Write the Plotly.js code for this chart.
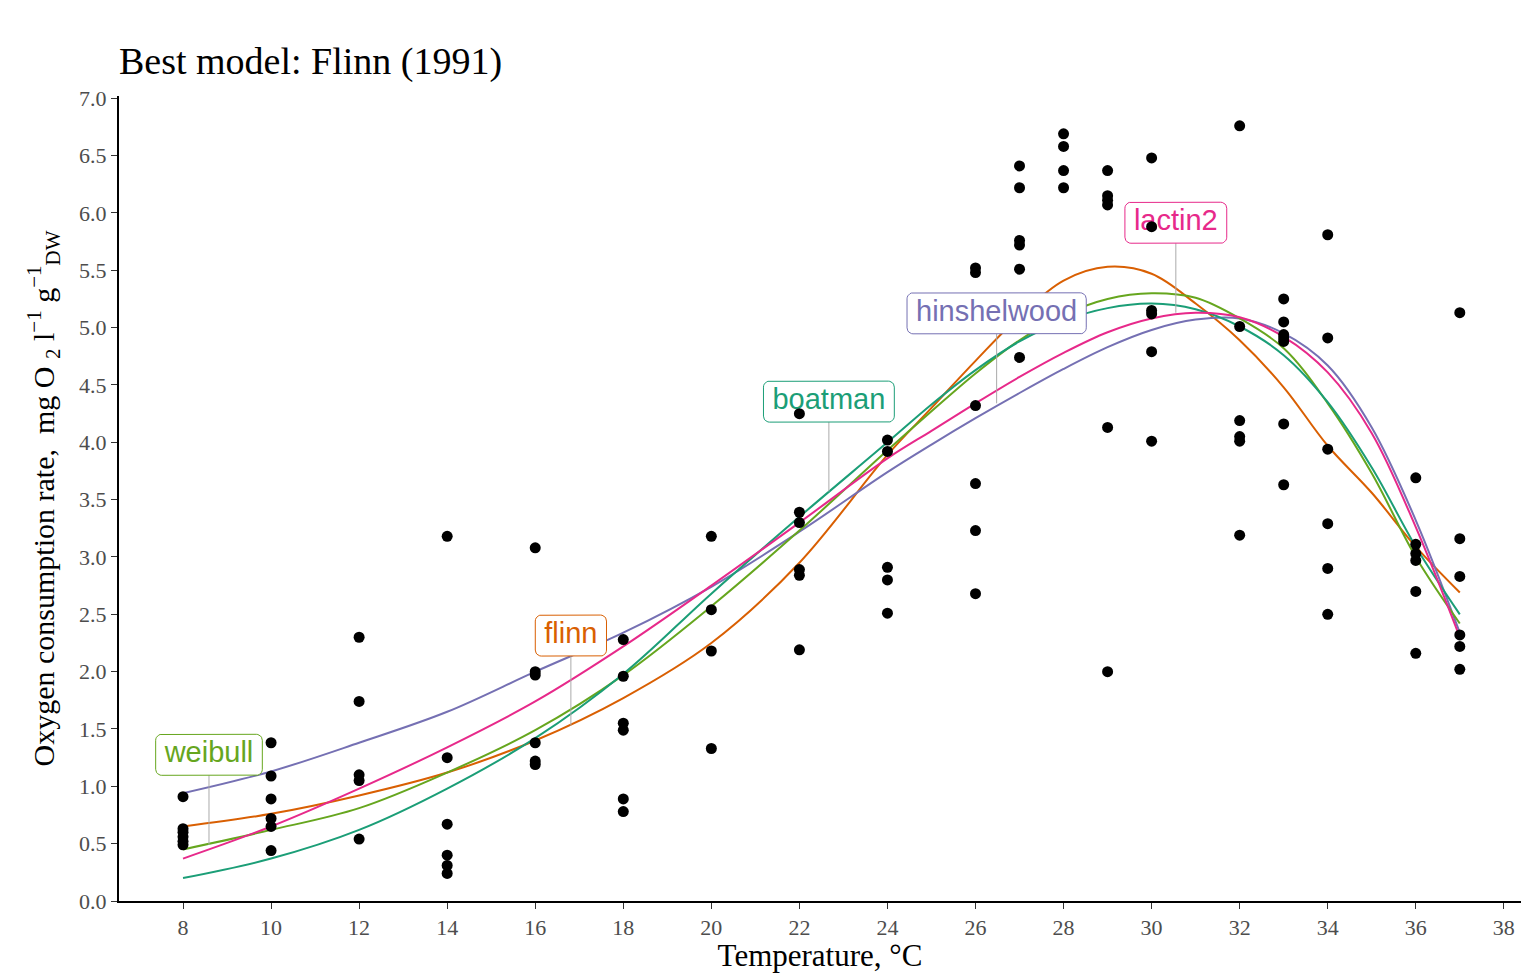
<!DOCTYPE html>
<html><head><meta charset="utf-8">
<script src="https://cdn.plot.ly/plotly-3.0.1.min.js"></script>
<style>html,body{margin:0;padding:0;background:#fff}#chart{width:1521px;height:973px}</style>
</head><body><div id="chart"></div>
<script>
// ---- observed data ----
const obsTemp = [
  8,8,8,8,8,8,
  10,10,10,10,10,10,
  12,12,12,12,12,
  14,14,14,14,14,14,
  16,16,16,16,16,16,
  18,18,18,18,18,18,
  20,20,20,20,
  22,22,22,22,22,22,
  24,24,24,24,24,
  26,26,26,26,26,26,
  27,27,27,27,27,27,
  28,28,28,28,
  29,29,29,29,29,29,
  30,30,30,30,30,30,
  32,32,32,32,32,32,
  33,33,33,33,33,33,33,
  34,34,34,34,34,34,
  36,36,36,36,36,36,
  37,37,37,37,37,37
];
const obsRate = [
  0.91,0.63,0.60,0.56,0.52,0.49,
  1.38,1.09,0.89,0.72,0.65,0.44,
  2.30,1.74,1.10,1.05,0.54,
  3.18,1.25,0.67,0.40,0.31,0.24,
  3.08,2.00,1.97,1.38,1.22,1.19,
  2.28,1.96,1.55,1.49,0.89,0.78,
  3.18,2.54,2.18,1.33,
  4.25,3.39,3.30,2.89,2.84,2.19,
  4.02,3.92,2.91,2.80,2.51,
  5.52,5.48,4.32,3.64,3.23,2.68,
  6.41,6.22,5.76,5.72,5.51,4.74,
  6.69,6.58,6.37,6.22,
  6.37,6.15,6.11,6.07,4.13,2.00,
  6.48,5.88,5.15,5.12,4.79,4.01,
  6.76,5.01,4.19,4.05,4.01,3.19,
  5.25,5.05,4.94,4.91,4.88,4.16,3.63,
  5.81,4.91,3.94,3.29,2.90,2.50,
  3.69,3.11,3.03,2.97,2.70,2.16,
  5.13,3.16,2.83,2.32,2.22,2.02
];

// ---- fitted model curves ----
const curveTemp   = [8,10,12,14,16,18,20,22,24,25,26,27,28,29,30,31,32,33,34,35,36,37];
const boatman     = [0.20,0.37,0.62,0.98,1.42,1.98,2.68,3.35,4.00,4.33,4.63,4.88,5.06,5.17,5.21,5.16,5.01,4.76,4.35,3.78,3.09,2.50];
const flinn       = [0.65,0.76,0.92,1.12,1.40,1.77,2.25,2.95,3.89,4.30,4.71,5.10,5.41,5.53,5.47,5.21,4.89,4.48,3.97,3.56,3.09,2.69];
const hinshelwood = [0.94,1.13,1.38,1.65,2.00,2.34,2.74,3.22,3.74,3.98,4.21,4.43,4.64,4.83,4.98,5.07,5.08,4.95,4.67,4.13,3.32,2.34];
const lactin2     = [0.37,0.65,0.98,1.34,1.74,2.22,2.75,3.30,3.86,4.10,4.34,4.57,4.78,4.96,5.08,5.13,5.09,4.92,4.61,4.08,3.26,2.30];
const weibull     = [0.45,0.62,0.81,1.12,1.49,1.97,2.57,3.23,3.93,4.27,4.60,4.89,5.11,5.25,5.30,5.26,5.08,4.82,4.34,3.73,3.00,2.42];

// ---- labels ----
const modelNames = ['boatman','flinn','hinshelwood','lactin2','weibull'];
const modelCurves = [boatman, flinn, hinshelwood, lactin2, weibull];
const labelTemp = [22.67, 16.81, 26.48, 30.55, 8.59];
const labelRate = [3.57, 1.53, 4.34, 5.13, 0.49];

// ---- tick labels ----
const xTicks = [8,10,12,14,16,18,20,22,24,26,28,30,32,34,36,38];
const yTicks = [0,0.5,1,1.5,2,2.5,3,3.5,4,4.5,5,5.5,6,6.5,7];

const titleText = 'Best model: Flinn (1991)';
const xTitle = 'Temperature, °C';
const yTitle = 'Oxygen consumption rate,  mg O <sub>2</sub> l<sup>−1</sup> g<sup>−1</sup><sub>DW</sub>';

// ---- style ----
const colors = {boatman:'#1B9E77', flinn:'#D95F02', hinshelwood:'#7570B3', lactin2:'#E7298A', weibull:'#66A61E'};
const W = 1521, H = 973;
const M = {l:119, r:0, t:96, b:72};
const xRange = [6.546, 38.39];
const yRange = [0, 7.02];
const labelFontSize = 29;
const labelFont = 'Liberation Sans, Arial, sans-serif';
const labelOffsetPx = 90;   // label centre above anchor
const boxH = 41, boxPad = 9, radius = 6;

const pxX = (W - M.l - M.r) / (xRange[1] - xRange[0]);
const pxY = (H - M.t - M.b) / (yRange[1] - yRange[0]);

const cv = document.createElement('canvas').getContext('2d');
cv.font = labelFontSize + 'px ' + labelFont;

const traces = [];
// curves
['flinn','hinshelwood','weibull','boatman','lactin2'].forEach(n => {
  const idx = modelNames.indexOf(n);
  traces.push({x: curveTemp, y: modelCurves[idx], type:'scatter', mode:'lines',
    line:{color: colors[n], width:2, shape:'spline', smoothing:1}, hoverinfo:'skip'});
});
// labels: segment, box, text
modelNames.forEach((n, i) => {
  const cx = labelTemp[i], cy = labelRate[i] + labelOffsetPx / pxY;
  const halfW = (cv.measureText(n).width / 2 + boxPad);
  const halfH = boxH / 2;
  traces.push({x:[labelTemp[i], labelTemp[i]], y:[labelRate[i], cy - halfH / pxY], type:'scatter', mode:'lines',
    line:{color:'#aaaaaa', width:1}, hoverinfo:'skip'});
  // rounded rectangle in pixel space -> data
  const bx = [], by = [];
  const corners = [[halfW - radius, halfH - radius, 0], [-(halfW - radius), halfH - radius, 90],
                   [-(halfW - radius), -(halfH - radius), 180], [halfW - radius, -(halfH - radius), 270]];
  corners.forEach(([ox, oy, a0]) => {
    for (let k = 0; k <= 6; k++) {
      const a = (a0 + k * 15) * Math.PI / 180;
      const px = ox + radius * Math.cos(a), py = oy + radius * Math.sin(a);
      bx.push(cx + px / pxX); by.push(cy + py / pxY);
    }
  });
  bx.push(bx[0]); by.push(by[0]);
  traces.push({x:bx, y:by, type:'scatter', mode:'lines', fill:'toself', fillcolor:'#ffffff',
    line:{color: colors[n], width:1}, hoverinfo:'skip'});
  traces.push({x:[cx], y:[cy], type:'scatter', mode:'text', text:[n], textposition:'middle center',
    textfont:{family: labelFont, size: labelFontSize, color: colors[n]}, hoverinfo:'skip'});
});
// observations on top
traces.push({x: obsTemp, y: obsRate, type:'scatter', mode:'markers',
  marker:{color:'#000000', size:11}, hoverinfo:'skip'});

const serif = 'Liberation Serif, Times New Roman, serif';
const layout = {
  width: W, height: H, margin: M, showlegend:false,
  paper_bgcolor:'#ffffff', plot_bgcolor:'#ffffff',
  font:{family: serif, color:'#000'},
  title:{text: titleText, x:0, xref:'paper', xanchor:'left', y: 1 - 61/H, yref:'container', yanchor:'middle',
    font:{family: serif, size:38, color:'#000'}},
  xaxis:{range: xRange, tickmode:'array', tickvals: xTicks, ticktext: xTicks.map(String),
    showgrid:false, zeroline:false, showline:true, linecolor:'#000', linewidth:2,
    ticks:'outside', ticklen:6, tickwidth:1, tickcolor:'#333',
    tickfont:{family: serif, size:22, color:'#4d4d4d'},
    title:{text: xTitle, font:{family: serif, size:31, color:'#000'}, standoff:8}},
  yaxis:{range: yRange, tickmode:'array', tickvals: yTicks, ticktext: yTicks.map(v => v.toFixed(1)),
    showgrid:false, zeroline:false, showline:true, linecolor:'#000', linewidth:2,
    ticks:'outside', ticklen:6, tickwidth:1, tickcolor:'#333',
    tickfont:{family: serif, size:22, color:'#4d4d4d'},
    title:{text: yTitle, font:{family: serif, size:30, color:'#000'}, standoff:16}}
};
Plotly.newPlot('chart', traces, layout, {displayModeBar:false, staticPlot:true});
</script></body></html>
